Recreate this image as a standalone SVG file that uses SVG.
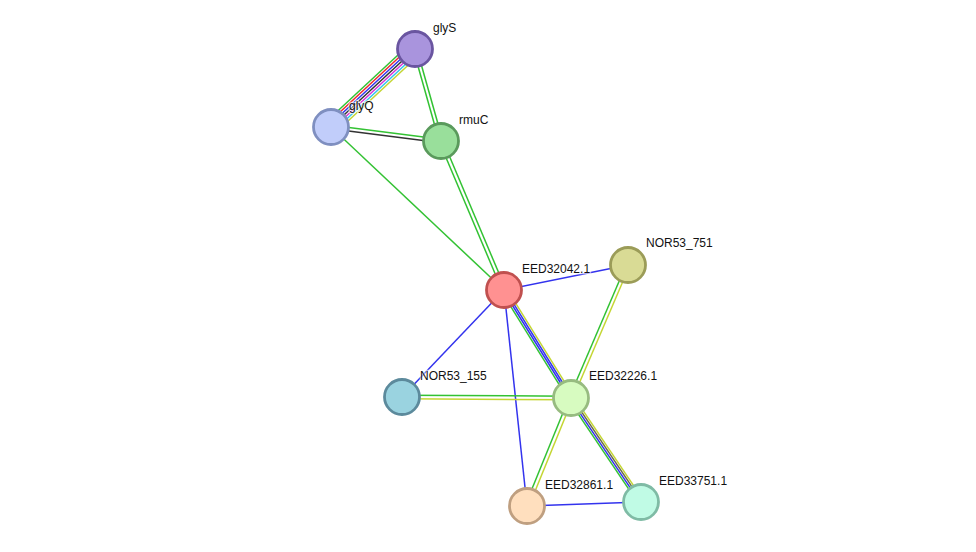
<svg xmlns="http://www.w3.org/2000/svg" width="976" height="552" viewBox="0 0 976 552">
<style>
.e line{stroke-width:1.5;fill:none}
.g{stroke:#33c233}.r{stroke:#ee2a2a}.b{stroke:#3333ee}.k{stroke:#333333}.m{stroke:#d633d6}.c{stroke:#33c4ee}.y{stroke:#c4d633}
.n circle{stroke-width:2.8}
.n text{font-family:"Liberation Sans",Arial,sans-serif;font-size:12px;fill:#111;stroke:#fff;stroke-width:2.5;stroke-opacity:0.6;paint-order:stroke}
</style>
<rect width="976" height="552" fill="#fff"/>
<g id="edges" class="e">
<!-- glyS-glyQ -->
<line class="g" x1="410.1" y1="43.7" x2="326.1" y2="121.7"/>
<line class="r" x1="411.7" y1="45.5" x2="327.7" y2="123.5"/>
<line class="b" x1="413.4" y1="47.2" x2="329.4" y2="125.2"/>
<line class="k" x1="415" y1="49" x2="331" y2="127"/>
<line class="m" x1="416.6" y1="50.8" x2="332.6" y2="128.8"/>
<line class="c" x1="418.3" y1="52.5" x2="334.3" y2="130.5"/>
<line class="y" x1="419.9" y1="54.3" x2="335.9" y2="132.3"/>
<!-- glyS-rmuC -->
<line class="g" x1="413.3" y1="49.5" x2="439.3" y2="141.5"/>
<line class="g" x1="416.7" y1="48.5" x2="442.7" y2="140.5"/>
<!-- glyQ-rmuC -->
<line class="g" x1="331.2" y1="125.2" x2="441.2" y2="139.2"/>
<line class="k" x1="330.8" y1="128.8" x2="440.8" y2="142.8"/>
<!-- glyQ-EED32042 -->
<line class="g" x1="331" y1="127" x2="504" y2="290"/>
<!-- rmuC-EED32042 -->
<line class="g" x1="439.3" y1="141.7" x2="502.3" y2="290.7"/>
<line class="g" x1="442.7" y1="140.3" x2="505.7" y2="289.3"/>
<!-- EED32042-NOR53_751 -->
<line class="b" x1="504" y1="290" x2="628" y2="265"/>
<!-- EED32042-NOR53_155 -->
<line class="b" x1="504" y1="290" x2="402" y2="397"/>
<!-- EED32042-EED32861 -->
<line class="b" x1="504" y1="290" x2="527" y2="506"/>
<!-- EED32042-EED32226 -->
<line class="g" x1="501.5" y1="291.6" x2="568.5" y2="399.6"/>
<line class="b" x1="503.2" y1="290.5" x2="570.2" y2="398.5"/>
<line class="b" x1="504.8" y1="289.5" x2="571.8" y2="397.5"/>
<line class="y" x1="506.5" y1="288.4" x2="573.5" y2="396.4"/>
<!-- NOR53_751-EED32226 -->
<line class="g" x1="626.4" y1="264.3" x2="569.4" y2="397.3"/>
<line class="y" x1="629.6" y1="265.7" x2="572.6" y2="398.7"/>
<!-- NOR53_155-EED32226 -->
<line class="g" x1="402" y1="395.2" x2="571" y2="396.2"/>
<line class="y" x1="402" y1="398.8" x2="571" y2="399.8"/>
<!-- EED32226-EED32861 -->
<line class="g" x1="569.3" y1="397.3" x2="525.3" y2="505.3"/>
<line class="y" x1="572.7" y1="398.7" x2="528.7" y2="506.7"/>
<!-- EED32226-EED33751 -->
<line class="g" x1="568.5" y1="399.7" x2="638.5" y2="503.7"/>
<line class="b" x1="570.2" y1="398.6" x2="640.2" y2="502.6"/>
<line class="k" x1="571.8" y1="397.4" x2="641.8" y2="501.4" style="stroke:#6a6a4a"/>
<line class="y" x1="573.5" y1="396.3" x2="643.5" y2="500.3"/>
<!-- EED32861-EED33751 -->
<line class="b" x1="527" y1="506" x2="641" y2="502"/>
</g>
<g id="glyS" class="n"><circle cx="415" cy="49" r="17.5" fill="#a994dd" stroke="#6a55a0"/><text x="433" y="32">glyS</text></g>
<g id="glyQ" class="n"><circle cx="331" cy="127" r="17.5" fill="#c1cdfa" stroke="#7f8fc0"/><text x="349" y="110">glyQ</text></g>
<g id="rmuC" class="n"><circle cx="441" cy="141" r="17.5" fill="#99df9b" stroke="#5a9a5c"/><text x="459" y="124">rmuC</text></g>
<g id="EED32042.1" class="n"><circle cx="504" cy="290" r="17.5" fill="#ff9191" stroke="#c0504f"/><text x="522" y="273">EED32042.1</text></g>
<g id="NOR53_751" class="n"><circle cx="628" cy="265" r="17.5" fill="#d9db95" stroke="#9b9c58"/><text x="646" y="247">NOR53_751</text></g>
<g id="NOR53_155" class="n"><circle cx="402" cy="397" r="17.5" fill="#9ad3e0" stroke="#5c8a9c"/><text x="420" y="380">NOR53_155</text></g>
<g id="EED32226.1" class="n"><circle cx="571" cy="398" r="17.5" fill="#d7fbc0" stroke="#97bb80"/><text x="589" y="380">EED32226.1</text></g>
<g id="EED32861.1" class="n"><circle cx="527" cy="506" r="17.5" fill="#ffdfbe" stroke="#bf9f80"/><text x="545" y="489">EED32861.1</text></g>
<g id="EED33751.1" class="n"><circle cx="641" cy="502" r="17.5" fill="#c0fbe5" stroke="#7fbba5"/><text x="659" y="485">EED33751.1</text></g>
</svg>
